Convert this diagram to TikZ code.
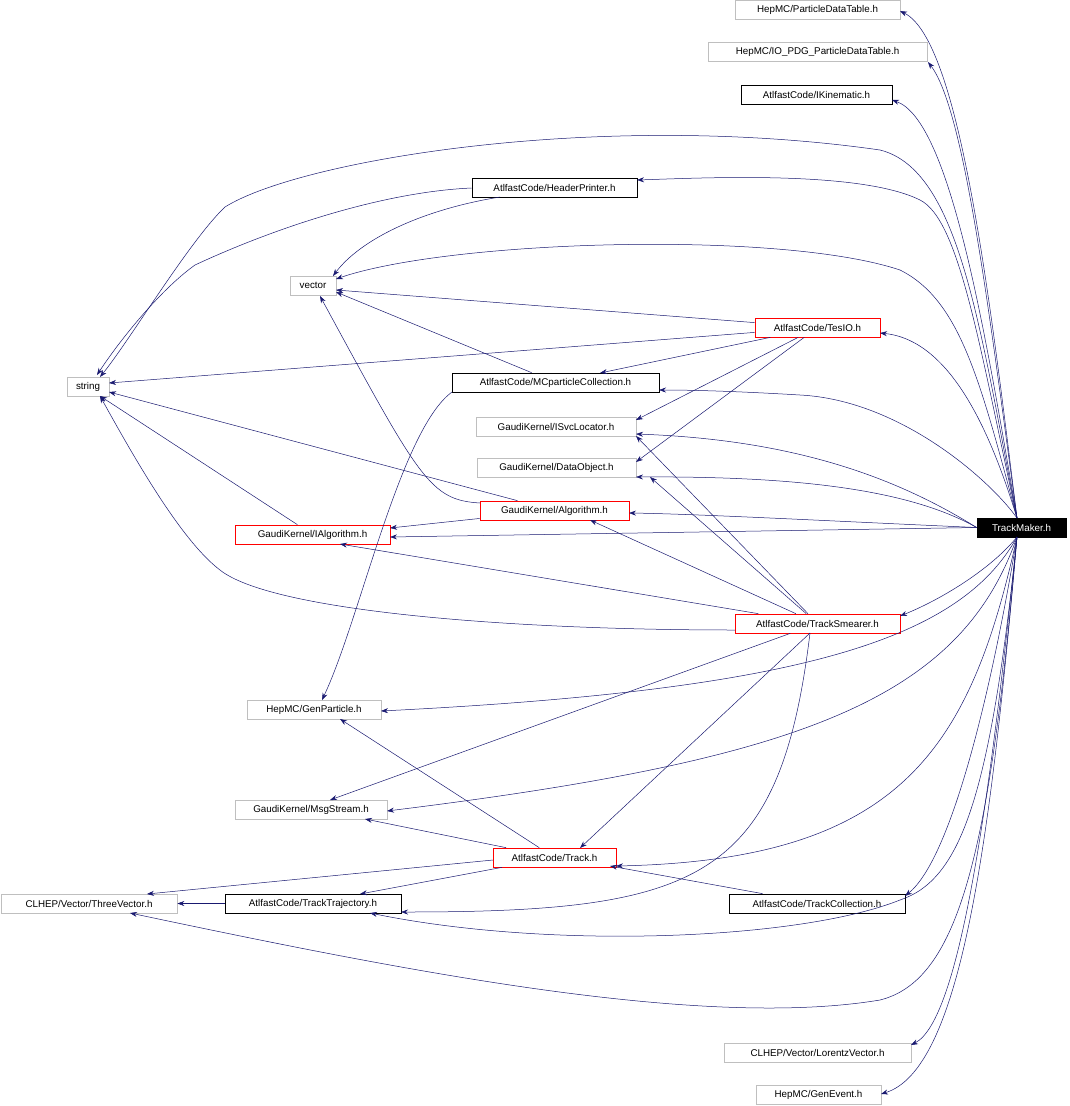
\documentclass[tikz,border=0pt]{standalone}
\usepackage{fontspec}
\setmainfont{Liberation Sans}
\usetikzlibrary{arrows.meta}
\definecolor{edge}{HTML}{191970}
\definecolor{gb}{HTML}{BFBFBF}
\begin{document}
\begin{tikzpicture}[x=1pt,y=-1pt,
 box/.style={draw,rectangle,minimum height=19pt,inner sep=0pt,font=\fontsize{9.8}{10}\selectfont,line width=0.7pt},
 gbox/.style={box,draw=gb},
 rbox/.style={box,draw=red},
 kbox/.style={box,draw=black},
 e/.style={draw=edge,line width=0.5pt,-{Stealth[length=7pt,width=5pt]},fill=none}]
\useasboundingbox (0,0) rectangle (1069,1106);
\node[gbox,minimum width=165pt] (pdt) at (817.5,10) {HepMC/ParticleDataTable.h};
\node[gbox,minimum width=219pt] (io) at (817.5,52) {HepMC/IO\_PDG\_ParticleDataTable.h};
\node[kbox,minimum width=151pt] (ik) at (816.5,94.5) {AtlfastCode/IKinematic.h};
\node[kbox,minimum width=165pt] (hp) at (554.5,188) {AtlfastCode/HeaderPrinter.h};
\node[gbox,minimum width=46pt] (vec) at (313,285.5) {vector};
\node[rbox,minimum width=125pt] (tes) at (817.5,327.5) {AtlfastCode/TesIO.h};
\node[gbox,minimum width=42pt] (str) at (88,386.5) {string};
\node[kbox,minimum width=207pt] (mc) at (555.5,382.5) {AtlfastCode/MCparticleCollection.h};
\node[gbox,minimum width=160pt] (isl) at (556,426.5) {GaudiKernel/ISvcLocator.h};
\node[gbox,minimum width=159pt] (dob) at (556.5,467.5) {GaudiKernel/DataObject.h};
\node[rbox,minimum width=149pt] (alg) at (554.5,510.5) {GaudiKernel/Algorithm.h};
\node[rbox,minimum width=155pt] (ialg) at (312.5,534.5) {GaudiKernel/IAlgorithm.h};
\node[box,fill=black,text=white,minimum width=89pt] (tm) at (1021.5,527.5) {TrackMaker.h};
\node[rbox,minimum width=165pt] (ts) at (817.5,623.5) {AtlfastCode/TrackSmearer.h};
\node[gbox,minimum width=134pt] (gp) at (314,709.5) {HepMC/GenParticle.h};
\node[gbox,minimum width=152pt] (ms) at (311,809.5) {GaudiKernel/MsgStream.h};
\node[rbox,minimum width=123pt] (tr) at (554.5,857.5) {AtlfastCode/Track.h};
\node[gbox,minimum width=176pt] (tv) at (89,903.5) {CLHEP/Vector/ThreeVector.h};
\node[kbox,minimum width=176pt] (tt) at (313,903.5) {AtlfastCode/TrackTrajectory.h};
\node[kbox,minimum width=176pt] (tc) at (817,903.5) {AtlfastCode/TrackCollection.h};
\node[gbox,minimum width=187pt] (lv) at (817.5,1052.5) {CLHEP/Vector/LorentzVector.h};
\node[gbox,minimum width=125pt] (ge) at (818.5,1094.5) {HepMC/GenEvent.h};
\coordinate (tu) at (1017,518);
\coordinate (td) at (1017,537);
% TrackMaker edges
\path[e] (tu) .. controls (990,300) and (960,40) .. (900,11);
\path[e] (tu) .. controls (990,320) and (965,110) .. (928,62);
\path[e] (tu) .. controls (985,330) and (950,120) .. (892,100);
\path[e] (tu) .. controls (980,330) and (960,170) .. (880,150) .. controls (600,110) and (300,160) .. (225,207) .. controls (190,240) and (130,340) .. (100,377);
\path[e] (tu) .. controls (980,350) and (960,220) .. (920,200) .. controls (860,170) and (700,178) .. (637,180);
\path[e] (tu) .. controls (980,380) and (960,300) .. (900,270) .. controls (780,230) and (450,240) .. (336,279);
\path[e] (tu) .. controls (990,430) and (950,340) .. (880,333);
\path[e] (tu) .. controls (990,480) and (900,400) .. (800,395) .. controls (750,392) and (700,390) .. (659,390);
\path[e] (tm.west) .. controls (900,480) and (800,440) .. (636,434);
\path[e] (tm.west) .. controls (910,490) and (800,476) .. (636,477);
\path[e] (tm.west) .. controls (850,522) and (700,514) .. (629,513);
\path[e] (tm.west) -- (390,537);
\path[e] (td) .. controls (990,570) and (940,600) .. (900,616);
\path[e] (td) .. controls (960,640) and (800,690) .. (381,711);
\path[e] (td) .. controls (960,700) and (800,760) .. (387,811);
\path[e] (td) .. controls (970,750) and (900,860) .. (616,866);
\path[e] (td) .. controls (990,700) and (950,860) .. (905,896);
\path[e] (td) .. controls (990,800) and (960,880) .. (900,900) .. controls (800,940) and (550,950) .. (370,913);
\path[e] (td) .. controls (990,850) and (960,980) .. (880,1000) .. controls (700,1030) and (400,970) .. (130,913);
\path[e] (td) .. controls (990,800) and (960,1020) .. (911,1045);
\path[e] (td) .. controls (990,850) and (960,1070) .. (881,1094);
% other edges
\path[e] (hp.west) .. controls (380,192) and (270,230) .. (195,265) .. controls (160,290) and (120,340) .. (97,375);
\path[e] (500,197) .. controls (420,210) and (360,240) .. (333,276);
\path[e] (tes) -- (336,290);
\path[e] (tes) -- (109,383);
\path[e] (tes) -- (600,373);
\path[e] (tes) -- (636,420);
\path[e] (tes) -- (636,462);
\path[e] (mc) -- (336,292);
\path[e] (452,392) .. controls (400,430) and (360,620) .. (322,700);
\path[e] (alg) -- (109,392);
\path[e] (480,503) .. controls (430,500) and (420,480) .. (320,296);
\path[e] (alg) -- (390,528);
\path[e] (ialg) -- (100,396);
\path[e] (735,630) .. controls (500,630) and (270,610) .. (220,570) .. controls (180,540) and (130,450) .. (100,396);
\path[e] (ts) -- (340,544);
\path[e] (ts) -- (590,520);
\path[e] (ts) -- (636,436);
\path[e] (ts) -- (650,477);
\path[e] (ts) -- (330,800);
\path[e] (810,633) -- (580,848);
\path[e] (810,633) .. controls (780,880) and (700,912) .. (401,912);
\path[e] (tr) -- (340,719);
\path[e] (tr) -- (365,819);
\path[e] (493,860) -- (147,894);
\path[e] (tr) -- (360,894);
\path[e] (tt) -- (tv);
\path[e] (tc) -- (610,866);
\end{tikzpicture}
\end{document}
